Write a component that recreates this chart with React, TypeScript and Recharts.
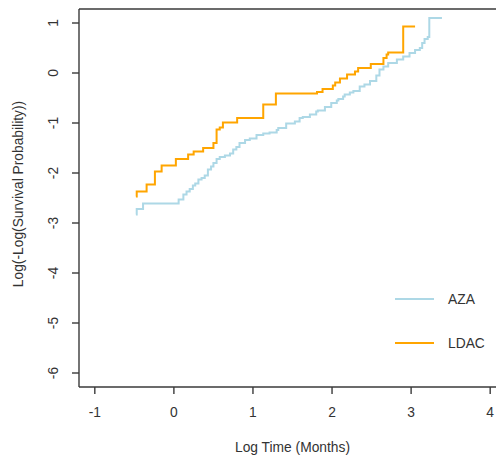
import React from 'react';
import { LineChart, Line, XAxis, YAxis, ReferenceLine, Legend } from 'recharts';

// AZA: [log time, log(-log(S))]
const azaX = [-0.48, -0.47, -0.39, 0.06, 0.12, 0.16, 0.20, 0.24, 0.27, 0.31, 0.35, 0.39, 0.43, 0.47, 0.50, 0.54, 0.58, 0.645, 0.71, 0.75, 0.79, 0.83, 0.90, 0.96, 1.045, 1.13, 1.21, 1.30, 1.32, 1.42, 1.53, 1.59, 1.63, 1.72, 1.80, 1.82, 1.91, 1.99, 2.06, 2.08, 2.14, 2.16, 2.225, 2.27, 2.35, 2.41, 2.48, 2.56, 2.60, 2.65, 2.71, 2.82, 2.90, 2.98, 3.05, 3.11, 3.14, 3.17, 3.21, 3.23, 3.39];
const azaY = [-2.83, -2.72, -2.61, -2.53, -2.43, -2.37, -2.32, -2.25, -2.21, -2.13, -2.10, -2.05, -1.93, -1.87, -1.80, -1.72, -1.68, -1.65, -1.61, -1.53, -1.48, -1.40, -1.34, -1.31, -1.24, -1.21, -1.19, -1.14, -1.10, -1.01, -0.97, -0.90, -0.88, -0.83, -0.77, -0.75, -0.68, -0.60, -0.55, -0.52, -0.47, -0.43, -0.39, -0.36, -0.27, -0.23, -0.16, -0.05, 0.07, 0.13, 0.20, 0.27, 0.33, 0.40, 0.46, 0.50, 0.60, 0.68, 0.72, 1.10, 1.10];

// LDAC
const ldacX = [-0.48, -0.47, -0.345, -0.24, -0.155, 0.025, 0.18, 0.25, 0.37, 0.50, 0.54, 0.58, 0.62, 0.80, 1.13, 1.29, 1.81, 1.88, 2.01, 2.04, 2.10, 2.19, 2.29, 2.33, 2.49, 2.65, 2.69, 2.71, 2.90, 3.05];
const ldacY = [-2.47, -2.37, -2.23, -1.97, -1.85, -1.72, -1.63, -1.57, -1.50, -1.40, -1.13, -1.09, -0.99, -0.90, -0.63, -0.41, -0.38, -0.32, -0.25, -0.19, -0.11, -0.03, 0.03, 0.10, 0.18, 0.30, 0.37, 0.41, 0.93, 0.93];

const xTicks = [-1, 0, 1, 2, 3, 4];
const yTicks = [-6, -5, -4, -3, -2, -1, 0, 1];
const xDomain = [-1.2, 4.2];
const yDomain = [-6.28, 1.28];

const seriesNames = ['AZA', 'LDAC'];
const seriesColors = ['#add8e6', '#ffa500'];

const azaData = azaX.map((x, i) => ({ x, y: azaY[i] }));
const ldacData = ldacX.map((x, i) => ({ x, y: ldacY[i] }));

const FONT = '"Liberation Sans", Arial, sans-serif';
const TEXT = '#333';
const FRAME = '#3a3a3a';

const XTick = (props: any) => (
  <text x={props.x} y={props.y} textAnchor="middle" fontSize={13.8} fontFamily={FONT} fill={TEXT}>
    {props.payload.value}
  </text>
);

const YTick = (props: any) => (
  <text
    x={props.x}
    y={props.y}
    textAnchor="middle"
    dominantBaseline="central"
    transform={`rotate(-90 ${props.x} ${props.y})`}
    fontSize={13.8}
    fontFamily={FONT}
    fill={TEXT}
  >
    {props.payload.value}
  </text>
);

const LegendContent = (props: any) => {
  const payload = props.payload || [];
  return (
    <svg width={120} height={80}>
      {payload.map((p: any, i: number) => (
        <g key={i}>
          <line x1={6} x2={45} y1={14 + i * 44} y2={14 + i * 44} stroke={p.color} strokeWidth={2} />
          <text x={59} y={14 + i * 44} dominantBaseline="central" fontSize={13.8} fontFamily={FONT} fill={TEXT}>
            {p.value}
          </text>
        </g>
      ))}
    </svg>
  );
};

export default function App() {
  return (
    <div style={{ position: 'absolute', left: 8, top: 8, width: 488, height: 448, overflow: 'hidden', background: '#fff' }}>
      <LineChart width={500} height={448} margin={{ top: 1, right: 2, bottom: 0, left: 0 }}>
        <XAxis
          type="number"
          dataKey="x"
          domain={xDomain}
          ticks={xTicks}
          allowDataOverflow
          height={69}
          tickSize={7}
          tickMargin={23}
          tick={XTick}
          stroke={FRAME}
          strokeWidth={1.4}
          tickLine={{ stroke: FRAME, strokeWidth: 1.4 }}
          label={{
            content: (p: any) => {
              const vb = p.viewBox || { x: 71, y: 379, width: 427, height: 69 };
              return (
                <text x={vb.x + vb.width / 2} y={vb.y + 65} textAnchor="middle" fontSize={13.8} fontFamily={FONT} fill={TEXT}>
                  Log Time (Months)
                </text>
              );
            },
          }}
        />
        <YAxis
          type="number"
          dataKey="y"
          domain={yDomain}
          ticks={yTicks}
          allowDataOverflow
          width={71}
          tickSize={7}
          tickMargin={19}
          tick={YTick}
          stroke={FRAME}
          strokeWidth={1.4}
          tickLine={{ stroke: FRAME, strokeWidth: 1.4 }}
          label={{
            content: (p: any) => {
              const vb = p.viewBox || { x: 0, y: 1, width: 71, height: 378 };
              const cx = vb.x + 10;
              const cy = vb.y + vb.height / 2 - 4;
              return (
                <text
                  x={cx}
                  y={cy}
                  textAnchor="middle"
                  dominantBaseline="central"
                  transform={`rotate(-90 ${cx} ${cy})`}
                  fontSize={13.8}
                  fontFamily={FONT}
                  fill={TEXT}
                >
                  Log(-Log(Survival Probability))
                </text>
              );
            },
          }}
        />
        <ReferenceLine y={yDomain[1]} stroke={FRAME} strokeWidth={1.6} />
        <Line
          data={azaData}
          dataKey="y"
          name={seriesNames[0]}
          type="stepAfter"
          stroke={seriesColors[0]}
          strokeWidth={2}
          dot={false}
          isAnimationActive={false}
        />
        <Line
          data={ldacData}
          dataKey="y"
          name={seriesNames[1]}
          type="stepAfter"
          stroke={seriesColors[1]}
          strokeWidth={2}
          dot={false}
          isAnimationActive={false}
        />
        <Legend
          verticalAlign="middle"
          layout="horizontal"
          content={LegendContent}
          wrapperStyle={{ position: 'absolute', left: 381, top: 277, width: 120, height: 80 }}
        />
      </LineChart>
    </div>
  );
}
